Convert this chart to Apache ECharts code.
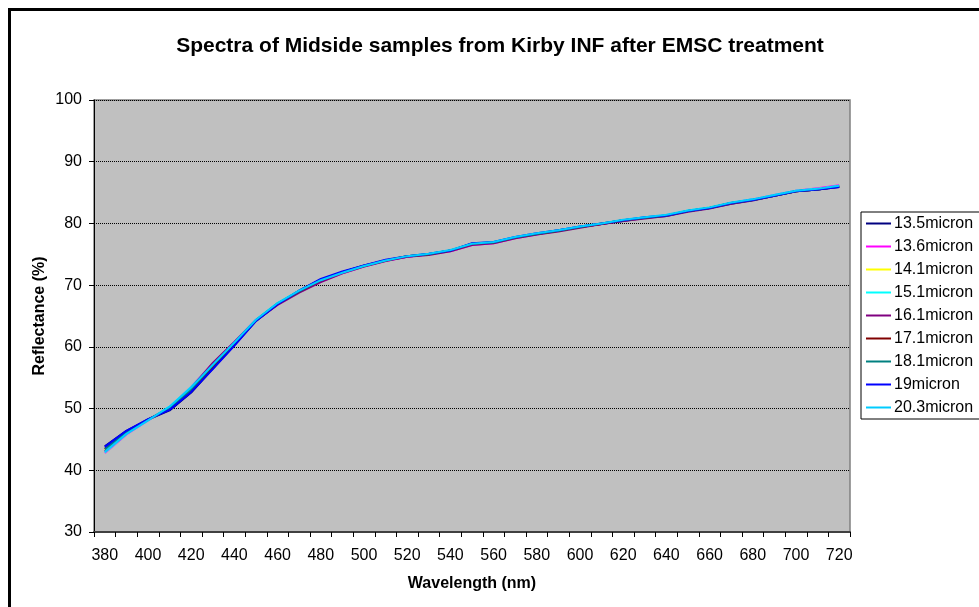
<!DOCTYPE html>
<html>
<head>
<meta charset="utf-8">
<script src="https://cdn.jsdelivr.net/npm/echarts@6/dist/echarts.min.js"></script>
<style>
  html, body { margin: 0; padding: 0; background: #fff; }
  #spectraChart { width: 979px; height: 607px; }
</style>
</head>
<body>
<div id="spectraChart"></div>
<script>
// wavelength categories (nm)
let wavelengths = ['380','390','400','410','420','430','440','450','460','470','480','490','500','510','520','530','540','550','560','570','580','590','600','610','620','630','640','650','660','670','680','690','700','710','720'];
let seriesNames = ['13.5micron','13.6micron','14.1micron','15.1micron','16.1micron','17.1micron','18.1micron','19micron','20.3micron'];
let seriesColors = ['#000080','#FF00FF','#FFFF00','#00FFFF','#800080','#800000','#008080','#0000FF','#00CCFF'];

// reflectance (%)
let r135 = [43.9,46.4,48.2,49.7,52.6,56.5,60.3,64.2,66.9,69.1,70.9,72.1,73.2,74.0,74.6,75.0,75.6,76.6,76.9,77.7,78.3,78.9,79.4,79.9,80.4,80.9,81.2,82.0,82.5,83.2,83.8,84.5,85.2,85.5,85.9];
let r136 = [42.8,45.8,48.1,50.2,53.5,57.3,60.8,64.4,66.9,68.9,70.6,71.9,73.0,73.9,74.6,75.0,75.5,76.5,76.8,77.6,78.2,78.8,79.4,79.9,80.5,80.9,81.3,82.0,82.5,83.3,83.9,84.6,85.3,85.7,86.2];
let r141 = [43.3,46.1,48.2,50.1,53.2,57.0,60.6,64.3,67.0,69.0,70.8,72.0,73.1,74.0,74.7,75.0,75.6,76.6,76.9,77.7,78.3,78.8,79.4,80.0,80.5,80.9,81.3,82.0,82.6,83.3,83.8,84.5,85.2,85.6,86.0];
let r151 = [42.9,45.9,48.1,50.3,53.5,57.2,60.7,64.4,67.1,69.1,70.8,72.0,73.1,74.0,74.7,75.1,75.6,76.7,77.0,77.8,78.3,78.9,79.5,80.0,80.5,81.0,81.3,82.1,82.6,83.3,83.9,84.6,85.3,85.6,86.1];
let r161 = [43.1,46.0,48.2,50.1,53.3,57.4,60.8,64.3,66.8,68.8,70.5,71.9,73.0,73.9,74.6,74.9,75.5,76.5,76.8,77.6,78.2,78.7,79.3,79.9,80.4,80.8,81.2,81.9,82.4,83.2,83.7,84.5,85.2,85.5,86.0];
let r171 = [43.5,46.2,48.2,49.9,53.0,56.9,60.5,64.3,67.0,69.0,70.8,72.1,73.1,74.0,74.7,75.0,75.6,76.7,76.9,77.7,78.3,78.8,79.4,79.9,80.5,80.9,81.3,82.0,82.5,83.3,83.8,84.5,85.2,85.5,86.0];
let r181 = [43.4,46.2,48.2,50.0,53.1,57.0,60.6,64.3,67.0,69.0,70.8,72.1,73.1,74.0,74.7,75.0,75.6,76.7,76.9,77.7,78.3,78.8,79.4,80.0,80.5,80.9,81.3,82.0,82.5,83.3,83.8,84.5,85.2,85.5,86.0];
let r19 = [43.8,46.4,48.3,49.8,52.7,56.4,60.2,64.2,66.9,69.1,71.0,72.2,73.2,74.1,74.7,75.1,75.6,76.8,77.0,77.8,78.4,78.9,79.5,80.0,80.5,81.0,81.3,82.0,82.5,83.3,83.8,84.5,85.2,85.5,85.9];
let r203 = [43.0,45.9,48.1,50.3,53.4,57.1,60.7,64.4,67.1,69.1,70.8,72.0,73.1,74.0,74.7,75.1,75.7,76.7,77.0,77.8,78.4,78.9,79.5,80.0,80.6,81.0,81.4,82.1,82.6,83.4,83.9,84.6,85.3,85.6,86.1];
let allValues = [r135, r136, r141, r151, r161, r171, r181, r19, r203];

let chart = echarts.init(document.getElementById('spectraChart'), null, {renderer: 'canvas'});
let font = '"Liberation Sans", Arial, sans-serif';

let series = seriesNames.map((name, i) => ({
  name: name,
  type: 'line',
  data: allValues[i],
  color: seriesColors[i],
  symbol: 'none',
  lineStyle: {width: 2, color: seriesColors[i]},
  emphasis: {disabled: true},
  animation: false
}));

let option = {
  backgroundColor: '#fff',
  textStyle: {fontFamily: font},
  graphic: [
    { // outer chart border, runs off the right and bottom edges
      type: 'rect',
      shape: {x: 9.5, y: 9.5, width: 1200, height: 1200},
      style: {fill: 'none', stroke: '#000', lineWidth: 3},
      silent: true
    },
    {
      type: 'text',
      x: 500, y: 46,
      style: {
        text: 'Spectra of Midside samples from Kirby INF after EMSC treatment',
        font: 'bold 21px ' + font,
        fill: '#000',
        align: 'center',
        verticalAlign: 'middle'
      },
      silent: true
    }
  ],
  grid: {
    left: 94, top: 100, width: 756, height: 432,
    show: true,
    backgroundColor: '#c0c0c0',
    borderColor: '#808080',
    borderWidth: 1.5
  },
  legend: {
    orient: 'vertical',
    left: 861, top: 212,
    padding: [3.5, 40, 3.5, 5],
    itemGap: 7,
    itemWidth: 25,
    itemHeight: 2,
    icon: 'rect',
    borderColor: '#000',
    borderWidth: 1,
    backgroundColor: '#fff',
    selectedMode: false,
    textStyle: {fontFamily: font, fontSize: 16, color: '#000', padding: [0, 0, 0, -2]},
    data: seriesNames
  },
  xAxis: {
    type: 'category',
    data: wavelengths,
    boundaryGap: true,
    name: 'Wavelength (nm)',
    nameLocation: 'middle',
    nameGap: 44,
    nameMoveOverlap: false,
    nameTextStyle: {fontFamily: font, fontSize: 16, fontWeight: 'bold', color: '#000'},
    axisLine: {show: true, lineStyle: {color: '#404040', width: 2}},
    axisTick: {show: true, interval: 0, length: 5, inside: false, lineStyle: {color: '#000', width: 1}},
    axisLabel: {interval: 1, margin: 16, fontFamily: font, fontSize: 16, color: '#000'},
    splitLine: {show: false}
  },
  yAxis: {
    type: 'value',
    min: 30, max: 100, interval: 10,
    name: 'Reflectance (%)',
    nameLocation: 'middle',
    nameGap: 46,
    nameMoveOverlap: false,
    nameTextStyle: {fontFamily: font, fontSize: 16, fontWeight: 'bold', color: '#000'},
    axisLine: {show: true, lineStyle: {color: '#000', width: 1}},
    axisTick: {show: true, length: 5, inside: false, lineStyle: {color: '#000'}},
    axisLabel: {margin: 12, fontFamily: font, fontSize: 16, color: '#000'},
    splitLine: {show: true, lineStyle: {color: '#000', width: 1, type: [1, 1]}}
  },
  series: series
};

chart.setOption(option);
</script>
</body>
</html>
